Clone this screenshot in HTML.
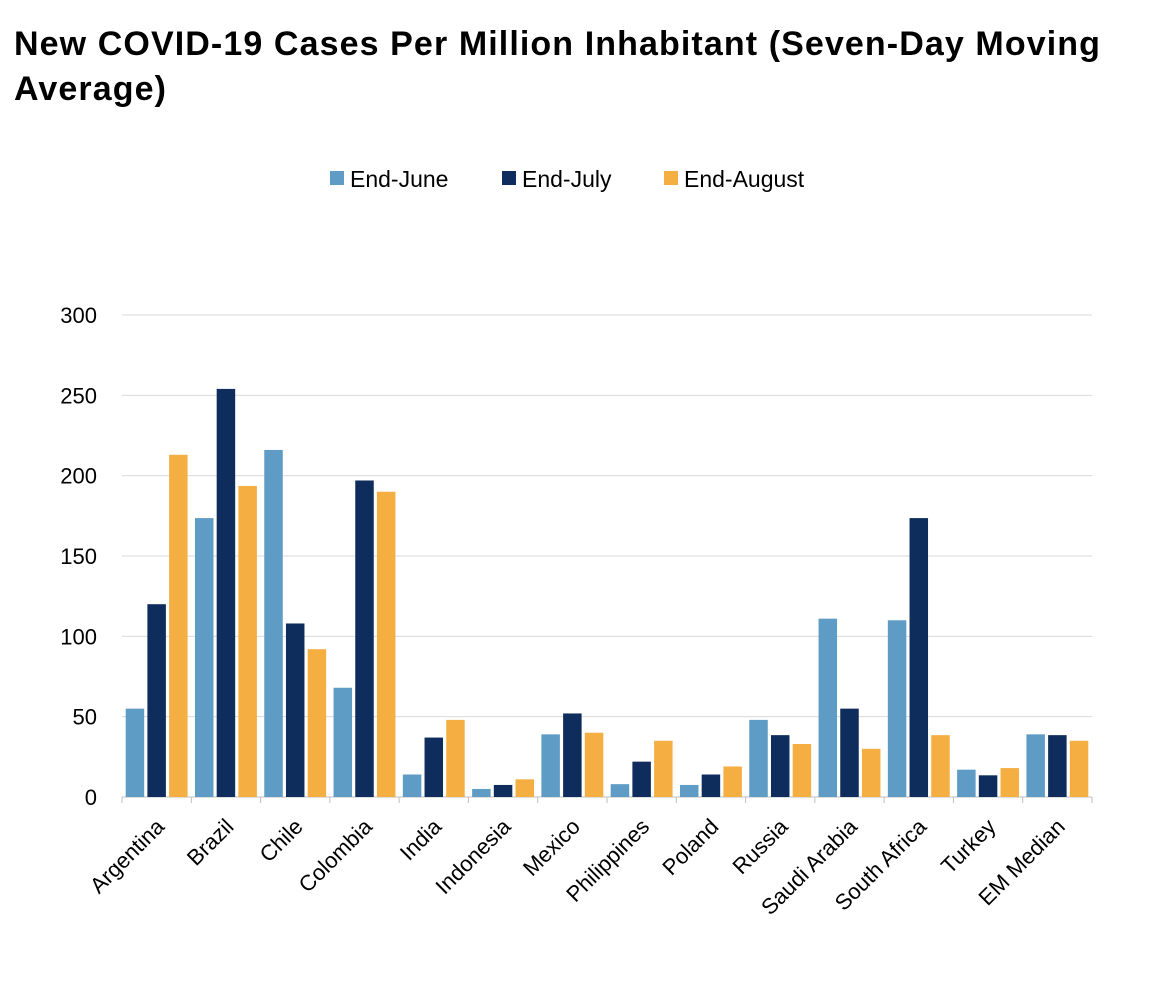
<!DOCTYPE html>
<html><head><meta charset="utf-8"><style>
body{margin:0;background:#fff;width:1152px;height:1006px;overflow:hidden;font-family:"Liberation Sans",sans-serif}
#title{position:absolute;left:14px;top:22px;font-size:34px;font-weight:bold;line-height:45px;color:#000;width:1115px;letter-spacing:1.1px}
</style></head><body>
<div id="title">New COVID-19 Cases Per Million Inhabitant (Seven-Day Moving Average)</div>
<svg id="chart" width="1152" height="1006" style="position:absolute;left:0;top:0"></svg>
<script>
const categories=["Argentina","Brazil","Chile","Colombia","India","Indonesia","Mexico","Philippines","Poland","Russia","Saudi Arabia","South Africa","Turkey","EM Median"];
const endJune=[55,173.6,216,68,14,5,39,8,7.5,48,111,110,17,39];
const endJuly=[120,254,108,197,37,7.5,52,22,14,38.5,55,173.6,13.5,38.5];
const endAugust=[213,193.6,92,190,48,11,40,35,19,33,30,38.5,18,35];
const seriesNames=["End-June","End-July","End-August"];
const yTicks=[0,50,100,150,200,250,300];
const colors=["#5f9cc5","#0f2d5c","#f4ae42"];
const series=[endJune,endJuly,endAugust];
const svg=document.getElementById('chart');
const NS="http://www.w3.org/2000/svg";
const x0=122,x1=1092,y0=797,yTop=315,yMax=300;
const bw=(x1-x0)/categories.length;
const yS=v=>y0-(v/yMax)*(y0-yTop);
function mk(t,a,p){const e=document.createElementNS(NS,t);for(const k in a)e.setAttribute(k,a[k]);(p||svg).appendChild(e);return e;}
yTicks.forEach(t=>{
  const l=mk('line',{x1:x0,x2:x1,y1:yS(t),y2:yS(t),stroke:t===0?'#bfbfbf':'#d9d9d9','stroke-width':1});
  
  
  const tx=mk('text',{x:97,y:yS(t)+8,'text-anchor':'end','font-size':22,fill:'#000','font-family':'Liberation Sans, sans-serif'});
  tx.textContent=t;
  
  
});
for(let i=0;i<=categories.length;i++){
  const x=x0+i*bw;
  const l=mk('line',{x1:x,x2:x,y1:y0,y2:y0+6,stroke:'#bfbfbf'});
  
  
}
const barW=18.5,gap=3.2;
categories.forEach((c,i)=>{
  const cx=x0+(i+0.5)*bw;
  series.forEach((s,j)=>{
    const bx=cx+(j-1)*(barW+gap)-barW/2;
    const r=mk('rect',{x:bx,y:yS(s[i]),width:barW,height:y0-yS(s[i]),fill:colors[j]});
    
    
  });
  const t=mk('text',{x:cx+9,y:y0+31,'text-anchor':'end','font-size':22,fill:'#000','font-family':'Liberation Sans, sans-serif',transform:`rotate(-45 ${cx+9} ${y0+31})`});
  t.textContent=c;
  
  
});
const lx=[330,502,664];
seriesNames.forEach((n,j)=>{
  const g=mk('g',{});
  
  
  mk('rect',{x:lx[j],y:171,width:14,height:14,fill:colors[j]},g);
  const t=mk('text',{x:lx[j]+20,y:187,'font-size':23,fill:'#000','font-family':'Liberation Sans, sans-serif'},g);
  t.textContent=n;
});
</script>
</body></html>
